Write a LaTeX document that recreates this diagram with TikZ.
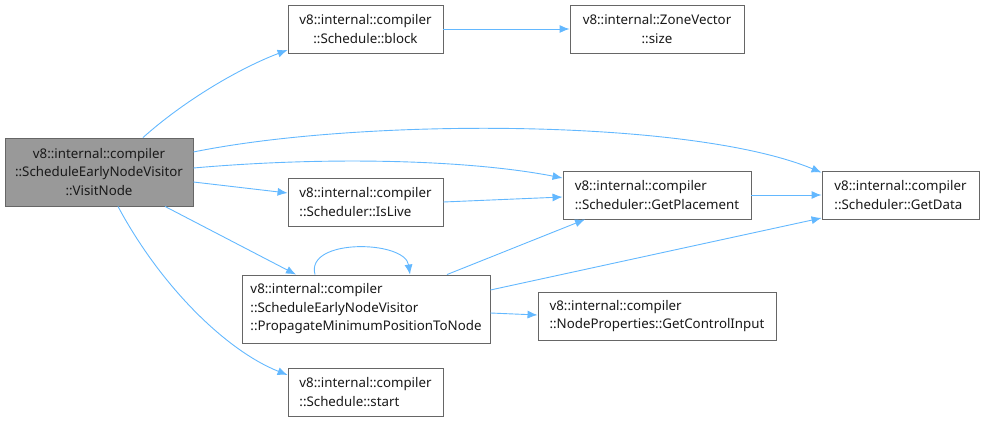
\documentclass[tikz,border=0pt]{standalone}
\usepackage{fontspec}
\setmainfont{Noto Sans}
\usetikzlibrary{arrows.meta,calc}
\definecolor{edgeblue}{HTML}{63B8FF}
\definecolor{boxline}{HTML}{666666}
\definecolor{grayfill}{HTML}{999999}
\tikzset{
  box/.style={draw=boxline,line width=0.9pt,fill=white,inner sep=0pt,
    font=\fontsize{13.3}{18.5}\selectfont,text=black!90},
  edge/.style={draw=edgeblue,line width=0.9pt,-{Latex[length=10pt,width=8pt]}},
}
\begin{document}
\begin{tikzpicture}[x=1pt,y=-1pt]
\useasboundingbox (0,0) rectangle (984,422);
\node[box,fill=grayfill,minimum width=188pt,minimum height=68pt,align=center] (visit) at (99,172)
  {v8::internal::compiler\\::ScheduleEarlyNodeVisitor\\::VisitNode};
\node[box,minimum width=155pt,minimum height=48pt,align=center] (block) at (365.5,29)
  {v8::internal::compiler\\::Schedule::block};
\node[box,minimum width=174pt,minimum height=48pt,align=center] (size) at (657,29)
  {v8::internal::ZoneVector\\::size};
\node[box,minimum width=155pt,minimum height=48pt,align=left] (islive) at (365.5,202)
  {v8::internal::compiler\\::Scheduler::IsLive};
\node[box,minimum width=188pt,minimum height=48pt,align=left] (place) at (657,195)
  {v8::internal::compiler\\::Scheduler::GetPlacement};
\node[box,minimum width=157pt,minimum height=48pt,align=left] (data) at (900.5,195)
  {v8::internal::compiler\\::Scheduler::GetData};
\node[box,minimum width=248pt,minimum height=68pt,align=left] (prop) at (366,309)
  {v8::internal::compiler\\::ScheduleEarlyNodeVisitor\\::PropagateMinimumPositionToNode};
\node[box,minimum width=238pt,minimum height=48pt,align=left] (ctrl) at (657,316)
  {v8::internal::compiler\\::NodeProperties::GetControlInput};
\node[box,minimum width=155pt,minimum height=48pt,align=left] (start) at (365.5,392)
  {v8::internal::compiler\\::Schedule::start};

\draw[edge] ([xshift=44pt]visit.north) .. controls (185,100) and (240,68) .. ([yshift=-21pt]block.west);
\draw[edge] (block.east) -- (size.west);
\draw[edge] ([yshift=20pt]visit.east) .. controls (360,118) and (690,118) .. ([yshift=-2pt]data.north west);
\draw[edge] ([yshift=4pt]visit.east) .. controls (330,156) and (470,160) .. ([yshift=17pt]place.west);
\draw[edge] ([yshift=-10pt]visit.east) -- ([yshift=9pt]islive.west);
\draw[edge] ([xshift=66pt]visit.south) -- ([xshift=-70pt]prop.north);
\draw[edge] ([xshift=19pt]visit.south) .. controls (160,285) and (225,350) .. ([yshift=17pt]start.west);
\draw[edge] (islive.east) -- ([yshift=-2pt]place.west);
\draw[edge] (place.east) -- (data.west);
\draw[edge] ([xshift=81pt]prop.north) -- ([xshift=-72pt]place.south);
\draw[edge] ([yshift=19pt]prop.east) -- ([yshift=-23pt]data.west);
\draw[edge] ([yshift=-4pt]prop.east) -- ([yshift=1pt]ctrl.west);
\draw[edge] ([xshift=-51pt]prop.north) .. controls (305,238) and (405,240) .. ([xshift=44pt]prop.north);
\end{tikzpicture}
\end{document}
